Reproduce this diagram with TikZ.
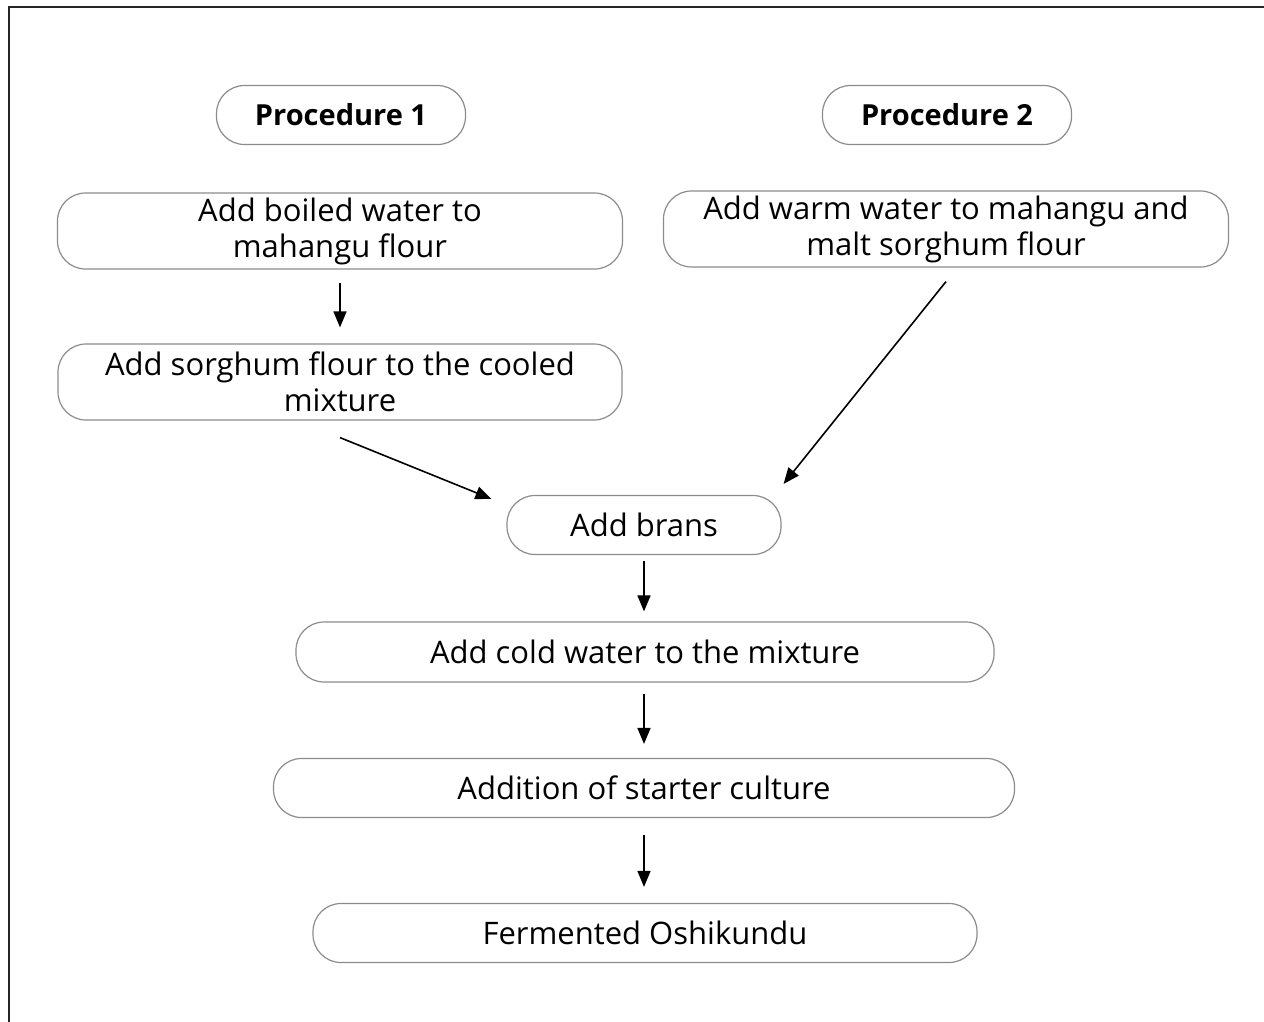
\documentclass[tikz,border=0pt]{standalone}
\usepackage{fontspec}
\setmainfont{Open Sans}
\usetikzlibrary{arrows.meta,calc}
\begin{document}
\begin{tikzpicture}[x=1pt,y=-1pt,
  box/.style={draw=black!45,line width=1.2pt,rounded corners=28pt,inner sep=0pt,align=center,
    font=\fontsize{31}{36}\selectfont,text=black},
  arr/.style={line width=1.6pt,-{Triangle[length=16pt,width=13pt]}}]
\useasboundingbox (0,0) rectangle (1264,1022);
\fill[white] (0,0) rectangle (1264,1022);
\draw[line width=2.5pt,black!85] (9,1022) -- (9,7) -- (1264,7);
\node[box,minimum width=249pt,minimum height=59pt,font=\fontsize{29}{36}\selectfont\bfseries] (p1) at (341,115) {Procedure 1};
\node[box,minimum width=249pt,minimum height=59pt,font=\fontsize{29}{36}\selectfont\bfseries] (p2) at (947,115) {Procedure 2};
\node[box,minimum width=565pt,minimum height=76pt] (a1) at (340,231) {Add boiled water to\\mahangu flour};
\node[box,minimum width=565pt,minimum height=76pt] (b1) at (946,229) {Add warm water to mahangu and\\malt sorghum flour};
\node[box,minimum width=564pt,minimum height=76pt] (a2) at (340,382) {Add sorghum flour to the cooled\\mixture};
\node[box,minimum width=274pt,minimum height=59pt] (br) at (644,525) {Add brans};
\node[box,minimum width=698pt,minimum height=60pt] (cw) at (645,652) {Add cold water to the mixture};
\node[box,minimum width=741pt,minimum height=59pt] (sc) at (644,788) {Addition of starter culture};
\node[box,minimum width=664pt,minimum height=59pt] (fo) at (645,933) {Fermented Oshikundu};
\draw[arr] ($(a1.south)+(0,13)$) -- ($(a2.north)+(0,-16)$);
\draw[arr] ($(a2.south)+(0,17)$) -- ($(br.north west)+(-15,4)$);
\draw[arr] ($(b1.south)+(0,14)$) -- ($(br.north east)+(2,-11)$);
\draw[arr] ($(br.south)+(0,6)$) -- ($(cw.north)+(-1,-10)$);
\draw[arr] ($(cw.south)+(-1,11)$) -- ($(sc.north)+(0,-14)$);
\draw[arr] ($(sc.south)+(0,17)$) -- ($(fo.north)+(-1,-16)$);
\end{tikzpicture}
\end{document}
